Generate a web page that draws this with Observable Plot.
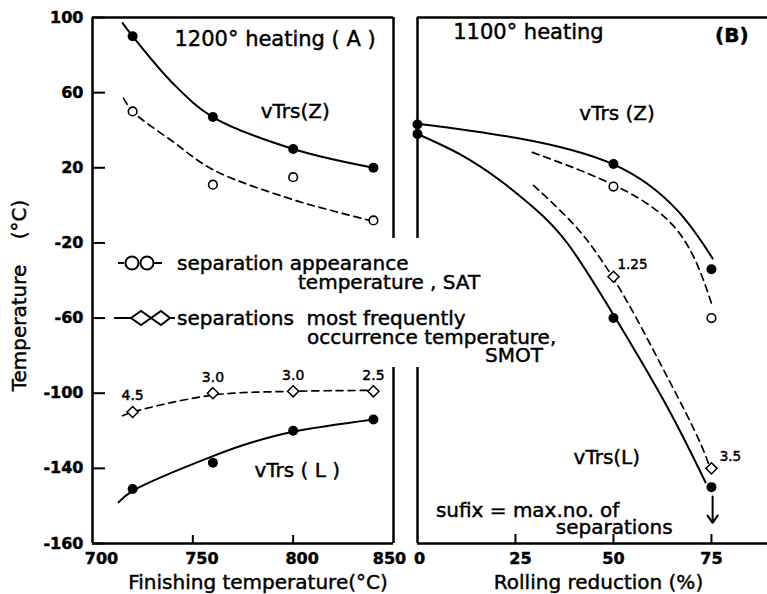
<!DOCTYPE html>
<html>
<head>
<meta charset="utf-8">
<script src="https://cdn.jsdelivr.net/npm/d3@7"></script>
<script src="https://cdn.jsdelivr.net/npm/@observablehq/plot@0.6"></script>
<style>
  body { margin: 0; background: #fff; }
  #wrap { position: relative; width: 767px; height: 594px; overflow: hidden; font-family: "DejaVu Sans", sans-serif; }
  #wrap > svg { position: absolute; top: 0; }
  #wrap text { stroke: black; stroke-width: 0.45px; }
  g[aria-label="x-axis tick label"], g[aria-label="y-axis tick label"] { font-weight: bold; font-size: 16px; }
  .leg { position: absolute; font-size: 20px; line-height: 20px; white-space: pre; color: #000; -webkit-text-stroke: 0.45px black; }
  .sw { position: absolute; }
</style>
</head>
<body>
<div id="wrap"></div>
<script>
// ---------- Data ----------
// Panel A: 1200° heating, finishing temperature (°C)
const finishTemp = [720, 760, 800, 840];
const vTrsZ_A = [90, 47, 30, 20];
const sat_A = [50, 11, 15, -8];
const smot_A = [-110, -100, -99, -99];
const smotNo_A = ["4.5", "3.0", "3.0", "2.5"];
const vTrsL_A = [-151, -137, -120, -114];

// Panel B: 1100° heating, rolling reduction (%)
const reduction = [0, 0, 50, 75];
const vTrsZ_B = [43, null, 22, -34];
const vTrsL_B = [null, 38, -60, -150];
const reductionSep = [50, 75];
const sat_B = [10, -60];
const smot_B = [-38, -140];
const smotNo_B = ["1.25", "3.5"];

// Hand-drawn fitted curves [x, y]
const fitZ_A = [[715, 97], [720, 90], [740, 65], [760, 47], [800, 30], [840, 20]];
const fitSat_A = [[715.5, 57], [720, 50], [740, 34], [760, 19], [800, 3], [820, -3], [840, -8.5]];
const fitSmot_A = [[715, -112], [720, -110], [760, -101], [800, -99], [840, -98.5]];
const fitL_A = [[713, -158], [720, -152], [760, -133.5], [780, -126], [800, -120.5], [840, -114]];

const fitZ_B = [[0, 43.5], [25, 36], [50, 21.8], [66.3, -2.7], [75.3, -28.3]];
const fitL_B = [[0, 38], [11, 27], [21.2, 13.1], [29.6, -1.1], [38.3, -20.3], [50.5, -60], [63.8, -107.6], [73.5, -147.5]];
const fitSat_B = [[29.3, 28.2], [49.2, 11.7], [66.3, -13.4], [75.3, -54]];
const fitSmot_B = [[29.6, 10.6], [40.8, -12.3], [50, -38.9], [63.8, -91.6], [72.2, -126.7], [74.7, -140]];

// Axes
const yTicks = [100, 60, 20, -20, -60, -100, -140, -180];
const yTickLabels = ["100", "60", "20", "-20", "-60", "-100", "-140", "-160"];
const xTicksA = [700, 750, 800, 850];
const xTicksB = [0, 25, 50, 75];
const yDomain = [-180, 100];
const xDomainA = [700, 850];
const xDomainB = [0, 89.3];

// Panel frame segments (gap where the legend crosses)
const borderGap = [{y1: 100, y2: -17.6}, {y1: -86.3, y2: -180}];

// Annotations
const annA = [
  {t: "1200° heating ( A )", x: 791, y: 88.5, s: 21},
  {t: "vTrs(Z)", x: 801, y: 50, s: 20},
  {t: "vTrs ( L )", x: 802, y: -141, s: 20}
];
const annB = [
  {t: "1100° heating", x: 28.3, y: 92.4, s: 21},
  {t: "vTrs (Z)", x: 50.9, y: 48.9, s: 20},
  {t: "vTrs(L)", x: 48.3, y: -134.2, s: 20},
  {t: "sufix = max.no. of", x: 28.1, y: -162.4, s: 20},
  {t: "separations", x: 50.2, y: -171.4, s: 20}
];
const annBBold = [{t: "(B)", x: 80.2, y: 90.4, s: 20}];
const arrowB = [{x1: 75.3, y1: -155, x2: 75.3, y2: -169}];

const yTitle = "Temperature    (°C)";
const xTitleA = "Finishing temperature(°C)";
const xTitleB = "Rolling reduction (%)";

// ---------- helpers ----------
const pts = (xs, ys, labels) => xs.map((x, i) => ({x, y: ys[i], label: labels ? labels[i] : null})).filter(d => d.y != null);
const fit = arr => arr.map(([x, y]) => ({x, y}));
const style = {fontFamily: "DejaVu Sans", fontSize: "20px", background: "transparent", color: "black"};
const solidA = {x: "x", y: "y", curve: "catmull-rom", stroke: "black", strokeWidth: 2};
const dashedA = {x: "x", y: "y", curve: "catmull-rom", stroke: "black", strokeWidth: 1.7, strokeDasharray: "7,5"};
const solidB = {...solidA, curve: "natural"};
const dashedB = {...dashedA};
const dashedBn = {...dashedA, curve: "natural"};
const filled = {x: "x", y: "y", r: 5, fill: "black"};
const openC = {x: "x", y: "y", r: 4.3, fill: "white", stroke: "black", strokeWidth: 1.6};
const openD = {x: "x", y: "y", r: 5, symbol: "diamond2", fill: "white", stroke: "black", strokeWidth: 1.5};
const tickText = {tickFormat: d => String(d), tickSize: 0, fontSize: 16, fontWeight: "bold", label: null};

const wrap = document.getElementById("wrap");

// ---------- Panel A ----------
const left = Plot.plot({
  width: 410, height: 594,
  marginLeft: 92, marginRight: 17, marginTop: 17, marginBottom: 51,
  x: {domain: xDomainA},
  y: {domain: yDomain},
  style,
  marks: [
    Plot.ruleX([xDomainA[0]], {strokeWidth: 2.5}),
    Plot.ruleY([yDomain[1], yDomain[0]], {strokeWidth: 2.5}),
    Plot.ruleX(borderGap, {x: xDomainA[1], y1: "y1", y2: "y2", strokeWidth: 2.5}),
    Plot.axisY({ticks: yTicks, tickFormat: d => yTickLabels[yTicks.indexOf(d)], tickSize: -13, strokeWidth: 2, fontSize: 16, fontWeight: "bold", label: null}),
    Plot.axisX({ticks: xTicksA.slice(1, 3), tickSize: -8, fill: "none", strokeWidth: 2, label: null}),
    Plot.axisX({ticks: xTicksA.slice(0, 3), dx: 9, ...tickText}),
    Plot.axisX({ticks: xTicksA.slice(3), dx: -4, ...tickText}),
    Plot.line(fit(fitZ_A), solidA),
    Plot.line(fit(fitSat_A), dashedA),
    Plot.line(fit(fitSmot_A), dashedA),
    Plot.line(fit(fitL_A), solidA),
    Plot.dot(pts(finishTemp, vTrsZ_A), filled),
    Plot.dot(pts(finishTemp, vTrsL_A), filled),
    Plot.dot(pts(finishTemp, sat_A), openC),
    Plot.dot(pts(finishTemp, smot_A, smotNo_A), openD),
    Plot.text(pts(finishTemp, smot_A, smotNo_A), {x: "x", y: "y", text: "label", dy: -16, fontSize: 14}),
    Plot.text(annA, {x: "x", y: "y", text: "t", fontSize: "s"}),
    Plot.text([yTitle], {text: d => d, frameAnchor: "left", textAnchor: "middle", lineAnchor: "middle", dx: -73, dy: 15, rotate: -90, fontSize: 20}),
    Plot.text([xTitleA], {text: d => d, frameAnchor: "bottom", textAnchor: "middle", lineAnchor: "middle", dx: 15, dy: 39, fontSize: 20})
  ]
});
left.style.left = "0px";
wrap.appendChild(left);

// ---------- Panel B ----------
const right = Plot.plot({
  width: 367, height: 594,
  marginLeft: 17, marginRight: 0, marginTop: 17, marginBottom: 51,
  x: {domain: xDomainB},
  y: {domain: yDomain, axis: null},
  style,
  marks: [
    Plot.ruleY([yDomain[1], yDomain[0]], {strokeWidth: 2.5}),
    Plot.ruleX(borderGap, {x: xDomainB[0], y1: "y1", y2: "y2", strokeWidth: 2.5}),
    Plot.axisX({ticks: xTicksB.slice(1), tickSize: -9, fill: "none", strokeWidth: 2, label: null}),
    Plot.axisX({ticks: xTicksB.slice(0, 1), dx: 2, ...tickText}),
    Plot.axisX({ticks: xTicksB.slice(1, 2), dx: 5, ...tickText}),
    Plot.axisX({ticks: xTicksB.slice(2), ...tickText}),
    Plot.line(fit(fitZ_B), solidB),
    Plot.line(fit(fitL_B), solidB),
    Plot.line(fit(fitSat_B), dashedBn),
    Plot.line(fit(fitSmot_B), dashedB),
    Plot.dot(pts(reduction, vTrsZ_B), filled),
    Plot.dot(pts(reduction, vTrsL_B), filled),
    Plot.dot(pts(reductionSep, sat_B), openC),
    Plot.dot(pts(reductionSep, smot_B, smotNo_B), openD),
    Plot.text(pts(reductionSep, smot_B, smotNo_B), {x: "x", y: "y", text: "label", dx: 19, dy: -12, fontSize: 13.5}),
    Plot.arrow(arrowB, {x1: "x1", y1: "y1", x2: "x2", y2: "y2", headLength: 10, headAngle: 70, strokeWidth: 2}),
    Plot.text(annB, {x: "x", y: "y", text: "t", fontSize: "s"}),
    Plot.text(annBBold, {x: "x", y: "y", text: "t", fontSize: "s", fontWeight: "bold"}),
    Plot.text([xTitleB], {text: d => d, frameAnchor: "bottom", textAnchor: "middle", lineAnchor: "middle", dx: 6, dy: 39, fontSize: 20})
  ]
});
right.style.left = "400px";
wrap.appendChild(right);

// ---------- Legend (overlaid, spanning both panels) ----------
const legendLines = [
  {t: "separation appearance", left: 177, cy: 263},
  {t: "temperature , SAT", left: 298, cy: 282},
  {t: "separations  most frequently", left: 177, cy: 318},
  {t: "occurrence temperature,", left: 307, cy: 337},
  {t: "SMOT", left: 485, cy: 355}
];
for (const l of legendLines) {
  const s = document.createElement("div");
  s.className = "leg";
  s.textContent = l.t;
  s.style.left = l.left + "px";
  s.style.top = (l.cy - 10.5) + "px";
  wrap.appendChild(s);
}
const ns = "http://www.w3.org/2000/svg";
function swatch(top, kind) {
  const svg = document.createElementNS(ns, "svg");
  svg.setAttribute("width", 64); svg.setAttribute("height", 20);
  svg.setAttribute("class", "sw");
  svg.style.left = "112px"; svg.style.top = (top - 10) + "px";
  const add = (tag, attrs) => { const e = document.createElementNS(ns, tag); for (const k in attrs) e.setAttribute(k, attrs[k]); svg.appendChild(e); };
  const st = {stroke: "black", "stroke-width": 2, fill: "white"};
  if (kind === "circle") {
    add("line", {x1: 6, y1: 10, x2: 12, y2: 10, stroke: "black", "stroke-width": 2});
    add("line", {x1: 42, y1: 10, x2: 50, y2: 10, stroke: "black", "stroke-width": 2});
    add("circle", {cx: 20, cy: 10, r: 6.5, ...st});
    add("circle", {cx: 35, cy: 10, r: 6.5, ...st});
  } else {
    add("line", {x1: 2, y1: 10, x2: 19, y2: 10, stroke: "black", "stroke-width": 2});
    add("line", {x1: 58, y1: 10, x2: 63, y2: 10, stroke: "black", "stroke-width": 2});
    add("path", {d: "M19,10 L29,3 L39,10 L29,17 Z", ...st});
    add("path", {d: "M39,10 L49,3 L58,10 L49,17 Z", ...st});
  }
  wrap.appendChild(svg);
}
swatch(263, "circle");
swatch(318, "diamond");
</script>
</body>
</html>
